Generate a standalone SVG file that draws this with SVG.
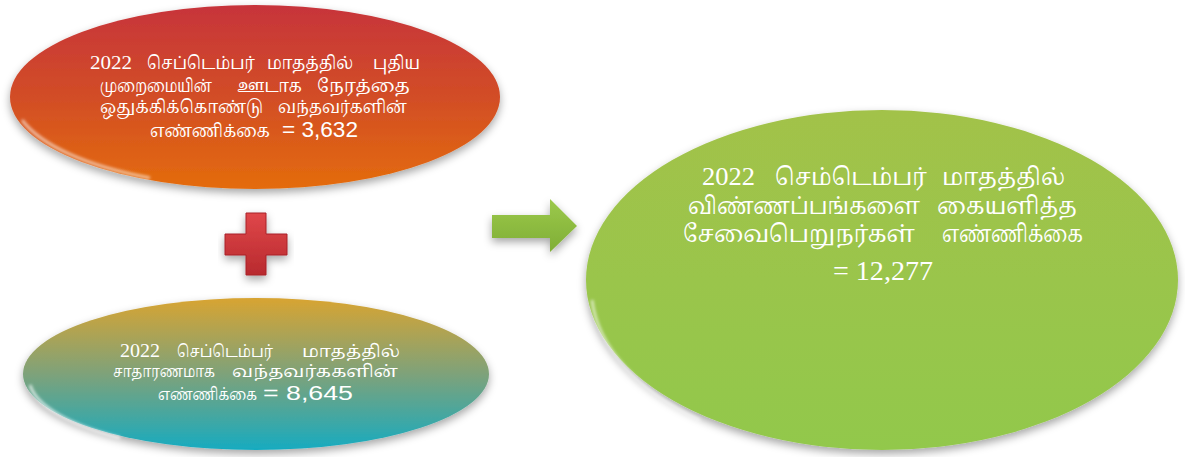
<svg xmlns="http://www.w3.org/2000/svg" width="1185" height="457" viewBox="0 0 1185 457">
<style>
.t{font-family:"Liberation Serif","Noto Serif Tamil","Noto Sans Tamil","Noto Sans",serif;fill:#ffffff}
.n{font-family:"Liberation Sans","Noto Sans",sans-serif}
.r{font-size:18px}.q{font-size:17px}.g{font-size:24px}
</style>
<defs>
<linearGradient id="gRed" x1="0" y1="0" x2="0" y2="1">
<stop offset="0" stop-color="#c7343b"/><stop offset="0.5" stop-color="#d24d26"/><stop offset="1" stop-color="#e46c0c"/>
</linearGradient>
<linearGradient id="gTeal" x1="0" y1="0" x2="0" y2="1">
<stop offset="0" stop-color="#d8a432"/><stop offset="0.5" stop-color="#7ea27a"/><stop offset="1" stop-color="#17abc0"/>
</linearGradient>
<linearGradient id="gGreen" x1="0" y1="0" x2="0" y2="1">
<stop offset="0" stop-color="#a2c24a"/><stop offset="1" stop-color="#92c84c"/>
</linearGradient>
<linearGradient id="gArrow" x1="0" y1="0" x2="0" y2="1">
<stop offset="0" stop-color="#9cc94c"/><stop offset="1" stop-color="#7fae35"/>
</linearGradient>
<linearGradient id="gPlus" x1="0" y1="0" x2="0" y2="1">
<stop offset="0" stop-color="#e0474a"/><stop offset="1" stop-color="#b82a2e"/>
</linearGradient>
<filter id="sh" x="-10%" y="-10%" width="120%" height="130%">
<feDropShadow dx="0" dy="4" stdDeviation="4" flood-color="#000" flood-opacity="0.35"/>
</filter>
<filter id="blur"><feGaussianBlur stdDeviation="1.5"/></filter>
</defs>

<g id="node-red">
<ellipse cx="255" cy="97" rx="245" ry="92" fill="url(#gRed)" filter="url(#sh)"/>
<path d="M 22 120 A 245 92 0 0 0 150 178" fill="none" stroke="#fff" stroke-opacity="0.6" stroke-width="3" filter="url(#blur)"/>
<text class="t r" x="90" y="69" textLength="42" lengthAdjust="spacingAndGlyphs">2022</text>
<text class="t r" x="147" y="69" textLength="108" lengthAdjust="spacingAndGlyphs">செப்டெம்பர்</text>
<text class="t r" x="267" y="69" textLength="86" lengthAdjust="spacingAndGlyphs">மாதத்தில்</text>
<text class="t r" x="373" y="69" textLength="47" lengthAdjust="spacingAndGlyphs">புதிய</text>
<text class="t r" x="100" y="92" textLength="112" lengthAdjust="spacingAndGlyphs">முறைமையின்</text>
<text class="t r" x="237" y="92" textLength="65" lengthAdjust="spacingAndGlyphs">ஊடாக</text>
<text class="t r" x="317" y="92" textLength="93" lengthAdjust="spacingAndGlyphs">நேரத்தை</text>
<text class="t r" x="100" y="113" textLength="163" lengthAdjust="spacingAndGlyphs">ஒதுக்கிக்கொண்டு</text>
<text class="t r" x="278" y="113" textLength="129" lengthAdjust="spacingAndGlyphs">வந்தவர்களின்</text>
<text class="t r" x="150" y="137" textLength="120" lengthAdjust="spacingAndGlyphs">எண்ணிக்கை</text>
<text class="t n" font-size="22" x="282" y="137" textLength="76" lengthAdjust="spacingAndGlyphs">= 3,632</text>
</g>

<g id="node-plus" filter="url(#sh)">
<path d="M 246 213 H 266 V 234 H 287 V 255 H 266 V 275 H 246 V 255 H 225 V 234 H 246 Z" fill="url(#gPlus)" stroke="#a82328" stroke-width="1"/>
</g>

<g id="node-teal">
<ellipse cx="256" cy="374" rx="233" ry="76" fill="url(#gTeal)" filter="url(#sh)"/>
<path d="M 30 385 A 233 76 0 0 0 120 438" fill="none" stroke="#fff" stroke-opacity="0.7" stroke-width="3" filter="url(#blur)"/>
<text class="t" font-size="19" x="120" y="357" textLength="40" lengthAdjust="spacingAndGlyphs">2022</text>
<text class="t q" x="177" y="357" textLength="96" lengthAdjust="spacingAndGlyphs">செப்டெம்பர்</text>
<text class="t q" x="302" y="357" textLength="98" lengthAdjust="spacingAndGlyphs">மாதத்தில்</text>
<text class="t q" x="113" y="377" textLength="102" lengthAdjust="spacingAndGlyphs">சாதாரணமாக</text>
<text class="t q" x="232" y="377" textLength="166" lengthAdjust="spacingAndGlyphs">வந்தவர்ககளின்</text>
<text class="t q" x="158" y="400" textLength="99" lengthAdjust="spacingAndGlyphs">எண்ணிக்கை</text>
<text class="t n" font-size="20" x="263" y="400" textLength="90" lengthAdjust="spacingAndGlyphs">= 8,645</text>
</g>

<g id="connectors">
<path d="M 492 215 H 550 V 199 L 577 226 L 550 252 V 238 H 492 Z" fill="url(#gArrow)" filter="url(#sh)"/>
</g>

<g id="node-green">
<ellipse cx="882" cy="280" rx="296" ry="170" fill="url(#gGreen)" filter="url(#sh)"/>
<path d="M 592 300 A 296 170 0 0 0 700 420" fill="none" stroke="#fff" stroke-opacity="0.6" stroke-width="3" filter="url(#blur)"/>
<text class="t" font-size="26" x="702" y="185" textLength="53" lengthAdjust="spacingAndGlyphs">2022</text>
<text class="t g" x="775" y="185" textLength="152" lengthAdjust="spacingAndGlyphs">செம்டெம்பர்</text>
<text class="t g" x="942" y="185" textLength="123" lengthAdjust="spacingAndGlyphs">மாதத்தில்</text>
<text class="t g" x="688" y="214" textLength="232" lengthAdjust="spacingAndGlyphs">விண்ணப்பங்களை</text>
<text class="t g" x="937" y="214" textLength="140" lengthAdjust="spacingAndGlyphs">கையளித்த</text>
<text class="t g" x="683" y="242" textLength="232" lengthAdjust="spacingAndGlyphs">சேவைபெறுநர்கள்</text>
<text class="t g" x="942" y="242" textLength="141" lengthAdjust="spacingAndGlyphs">எண்ணிக்கை</text>
<text class="t" font-size="28" x="833" y="280" textLength="100" lengthAdjust="spacingAndGlyphs">= 12,277</text>
</g>
</svg>
